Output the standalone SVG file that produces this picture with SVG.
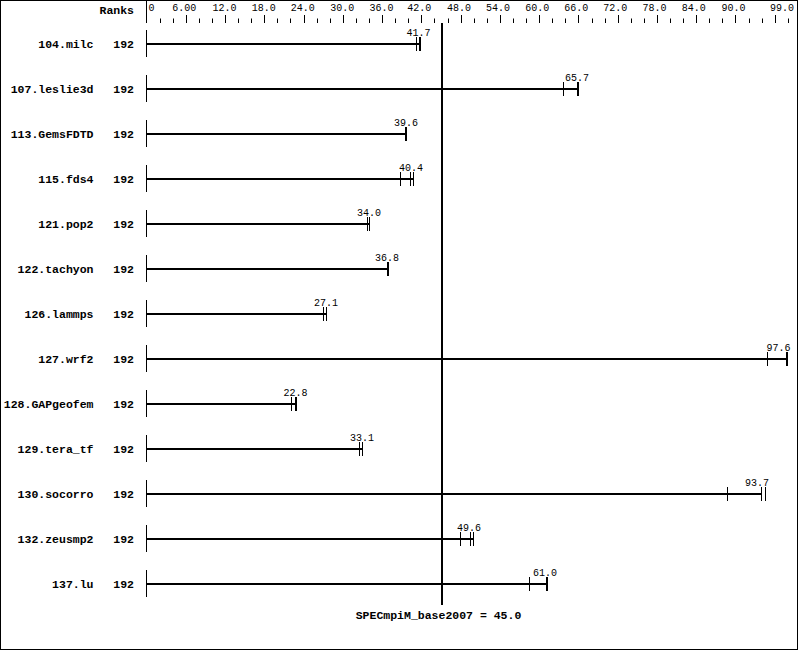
<svg xmlns="http://www.w3.org/2000/svg" width="799" height="651" viewBox="0 0 799 651">
<style>
.bg{fill:#fff}
.frame{fill:none;stroke:#000;stroke-width:1}
.ax{stroke:#000;stroke-width:1;fill:none}
.bar{stroke:#000;stroke-width:2;fill:none}
.t1{stroke:#000;stroke-width:1}
.t2{stroke:#000;stroke-width:2}
.num{font-family:"Liberation Mono","DejaVu Sans Mono",monospace;font-size:10px;fill:#000}
.lbl{font-family:"Liberation Mono","DejaVu Sans Mono",monospace;font-size:11.5px;font-weight:bold;fill:#000}
</style>
<rect class="bg" x="0" y="0" width="799" height="651"/>
<rect class="frame" x="0.5" y="0.5" width="797" height="649"/>
<g id="axis">
<text class="lbl" x="134" y="13.5" text-anchor="end">Ranks</text>
<line class="ax" x1="146.5" y1="0" x2="146.5" y2="23"/>
<path class="ax" d="M160.5 18.5V23M173.5 18.5V23M199.5 18.5V23M212.5 18.5V23M238.5 18.5V23M251.5 18.5V23M277.5 18.5V23M290.5 18.5V23M317.5 18.5V23M330.5 18.5V23M356.5 18.5V23M369.5 18.5V23M395.5 18.5V23M408.5 18.5V23M434.5 18.5V23M448.5 18.5V23M474.5 18.5V23M487.5 18.5V23M513.5 18.5V23M526.5 18.5V23M552.5 18.5V23M565.5 18.5V23M592.5 18.5V23M605.5 18.5V23M631.5 18.5V23M644.5 18.5V23M670.5 18.5V23M683.5 18.5V23M709.5 18.5V23M722.5 18.5V23M749.5 18.5V23M762.5 18.5V23M788.5 18.5V23"/>
<path class="ax" d="M186.5 15V23M225.5 15V23M264.5 15V23M304.5 15V23M343.5 15V23M382.5 15V23M421.5 15V23M461.5 15V23M500.5 15V23M539.5 15V23M578.5 15V23M618.5 15V23M657.5 15V23M696.5 15V23M735.5 15V23M775.5 15V23"/>
<text class="num" x="148.5" y="11">0</text>
<g class="num" text-anchor="middle">
<text x="184.3" y="11">6.00</text>
<text x="224.5" y="11">12.0</text>
<text x="263.8" y="11">18.0</text>
<text x="302.8" y="11">24.0</text>
<text x="342.3" y="11">30.0</text>
<text x="381.6" y="11">36.0</text>
<text x="419.2" y="11">42.0</text>
<text x="459" y="11">48.0</text>
<text x="498" y="11">54.0</text>
<text x="537.2" y="11">60.0</text>
<text x="576.3" y="11">66.0</text>
<text x="615.3" y="11">72.0</text>
<text x="654.5" y="11">78.0</text>
<text x="693.7" y="11">84.0</text>
<text x="733.6" y="11">90.0</text>
<text x="782" y="11">99.0</text>
</g>
</g>
<g id="baseline">
<line class="bar" x1="442" y1="23" x2="442" y2="605"/>
<text class="lbl" x="438.5" y="619" text-anchor="middle">SPECmpiM_base2007 = 45.0</text>
</g>
<g id="row-104-milc">
<text class="lbl" x="93.5" y="48" text-anchor="end">104.milc</text>
<text class="lbl" x="134" y="48" text-anchor="end">192</text>
<line class="ax" x1="146.5" y1="30" x2="146.5" y2="57"/>
<line class="bar" x1="146" y1="44" x2="420" y2="44"/>
<line class="t1" x1="416.5" y1="37" x2="416.5" y2="51"/>
<line class="t2" x1="420" y1="37" x2="420" y2="51"/>
<text class="num" x="406.5" y="36">41.7</text>
</g>
<g id="row-107-leslie3d">
<text class="lbl" x="93.5" y="93" text-anchor="end">107.leslie3d</text>
<text class="lbl" x="134" y="93" text-anchor="end">192</text>
<line class="ax" x1="146.5" y1="75" x2="146.5" y2="102"/>
<line class="bar" x1="146" y1="89" x2="578" y2="89"/>
<line class="t1" x1="563.5" y1="82" x2="563.5" y2="96"/>
<line class="t2" x1="578" y1="82" x2="578" y2="96"/>
<text class="num" x="565" y="81">65.7</text>
</g>
<g id="row-113-GemsFDTD">
<text class="lbl" x="93.5" y="138" text-anchor="end">113.GemsFDTD</text>
<text class="lbl" x="134" y="138" text-anchor="end">192</text>
<line class="ax" x1="146.5" y1="120" x2="146.5" y2="147"/>
<line class="bar" x1="146" y1="134" x2="406" y2="134"/>
<line class="t2" x1="406" y1="127" x2="406" y2="141"/>
<text class="num" x="394" y="126">39.6</text>
</g>
<g id="row-115-fds4">
<text class="lbl" x="93.5" y="183" text-anchor="end">115.fds4</text>
<text class="lbl" x="134" y="183" text-anchor="end">192</text>
<line class="ax" x1="146.5" y1="165" x2="146.5" y2="192"/>
<line class="bar" x1="146" y1="179" x2="414" y2="179"/>
<line class="t1" x1="400.5" y1="172" x2="400.5" y2="186"/>
<line class="t1" x1="410.5" y1="172" x2="410.5" y2="186"/>
<line class="t1" x1="413.5" y1="172" x2="413.5" y2="186"/>
<text class="num" x="399" y="171">40.4</text>
</g>
<g id="row-121-pop2">
<text class="lbl" x="93.5" y="228" text-anchor="end">121.pop2</text>
<text class="lbl" x="134" y="228" text-anchor="end">192</text>
<line class="ax" x1="146.5" y1="210" x2="146.5" y2="237"/>
<line class="bar" x1="146" y1="224" x2="370" y2="224"/>
<line class="t1" x1="367.5" y1="217" x2="367.5" y2="231"/>
<line class="t1" x1="369.5" y1="217" x2="369.5" y2="231"/>
<text class="num" x="357" y="216">34.0</text>
</g>
<g id="row-122-tachyon">
<text class="lbl" x="93.5" y="273" text-anchor="end">122.tachyon</text>
<text class="lbl" x="134" y="273" text-anchor="end">192</text>
<line class="ax" x1="146.5" y1="255" x2="146.5" y2="282"/>
<line class="bar" x1="146" y1="269" x2="388" y2="269"/>
<line class="t2" x1="388" y1="262" x2="388" y2="276"/>
<text class="num" x="375" y="261">36.8</text>
</g>
<g id="row-126-lammps">
<text class="lbl" x="93.5" y="318" text-anchor="end">126.lammps</text>
<text class="lbl" x="134" y="318" text-anchor="end">192</text>
<line class="ax" x1="146.5" y1="300" x2="146.5" y2="327"/>
<line class="bar" x1="146" y1="314" x2="327" y2="314"/>
<line class="t1" x1="323.5" y1="307" x2="323.5" y2="321"/>
<line class="t1" x1="326.5" y1="307" x2="326.5" y2="321"/>
<text class="num" x="314" y="306">27.1</text>
</g>
<g id="row-127-wrf2">
<text class="lbl" x="93.5" y="363" text-anchor="end">127.wrf2</text>
<text class="lbl" x="134" y="363" text-anchor="end">192</text>
<line class="ax" x1="146.5" y1="345" x2="146.5" y2="372"/>
<line class="bar" x1="146" y1="359" x2="787" y2="359"/>
<line class="t1" x1="767.5" y1="352" x2="767.5" y2="366"/>
<line class="t2" x1="787" y1="352" x2="787" y2="366"/>
<text class="num" x="766.5" y="351">97.6</text>
</g>
<g id="row-128-GAPgeofem">
<text class="lbl" x="93.5" y="408" text-anchor="end">128.GAPgeofem</text>
<text class="lbl" x="134" y="408" text-anchor="end">192</text>
<line class="ax" x1="146.5" y1="390" x2="146.5" y2="417"/>
<line class="bar" x1="146" y1="404" x2="296" y2="404"/>
<line class="t1" x1="291.5" y1="397" x2="291.5" y2="411"/>
<line class="t2" x1="296" y1="397" x2="296" y2="411"/>
<text class="num" x="283.5" y="396">22.8</text>
</g>
<g id="row-129-tera_tf">
<text class="lbl" x="93.5" y="453" text-anchor="end">129.tera_tf</text>
<text class="lbl" x="134" y="453" text-anchor="end">192</text>
<line class="ax" x1="146.5" y1="435" x2="146.5" y2="462"/>
<line class="bar" x1="146" y1="449" x2="363" y2="449"/>
<line class="t1" x1="359.5" y1="442" x2="359.5" y2="456"/>
<line class="t1" x1="362.5" y1="442" x2="362.5" y2="456"/>
<text class="num" x="350" y="441">33.1</text>
</g>
<g id="row-130-socorro">
<text class="lbl" x="93.5" y="498" text-anchor="end">130.socorro</text>
<text class="lbl" x="134" y="498" text-anchor="end">192</text>
<line class="ax" x1="146.5" y1="480" x2="146.5" y2="507"/>
<line class="bar" x1="146" y1="494" x2="762" y2="494"/>
<line class="t1" x1="727.5" y1="487" x2="727.5" y2="501"/>
<line class="t1" x1="761.5" y1="487" x2="761.5" y2="501"/>
<line class="t1" x1="765.5" y1="487" x2="765.5" y2="501"/>
<text class="num" x="745" y="486">93.7</text>
</g>
<g id="row-132-zeusmp2">
<text class="lbl" x="93.5" y="543" text-anchor="end">132.zeusmp2</text>
<text class="lbl" x="134" y="543" text-anchor="end">192</text>
<line class="ax" x1="146.5" y1="525" x2="146.5" y2="552"/>
<line class="bar" x1="146" y1="539" x2="474" y2="539"/>
<line class="t1" x1="460.5" y1="532" x2="460.5" y2="546"/>
<line class="t1" x1="470.5" y1="532" x2="470.5" y2="546"/>
<line class="t1" x1="473.5" y1="532" x2="473.5" y2="546"/>
<text class="num" x="457" y="531">49.6</text>
</g>
<g id="row-137-lu">
<text class="lbl" x="93.5" y="588" text-anchor="end">137.lu</text>
<text class="lbl" x="134" y="588" text-anchor="end">192</text>
<line class="ax" x1="146.5" y1="570" x2="146.5" y2="597"/>
<line class="bar" x1="146" y1="584" x2="547" y2="584"/>
<line class="t1" x1="529.5" y1="577" x2="529.5" y2="591"/>
<line class="t2" x1="547" y1="577" x2="547" y2="591"/>
<text class="num" x="533" y="576">61.0</text>
</g>
</svg>
